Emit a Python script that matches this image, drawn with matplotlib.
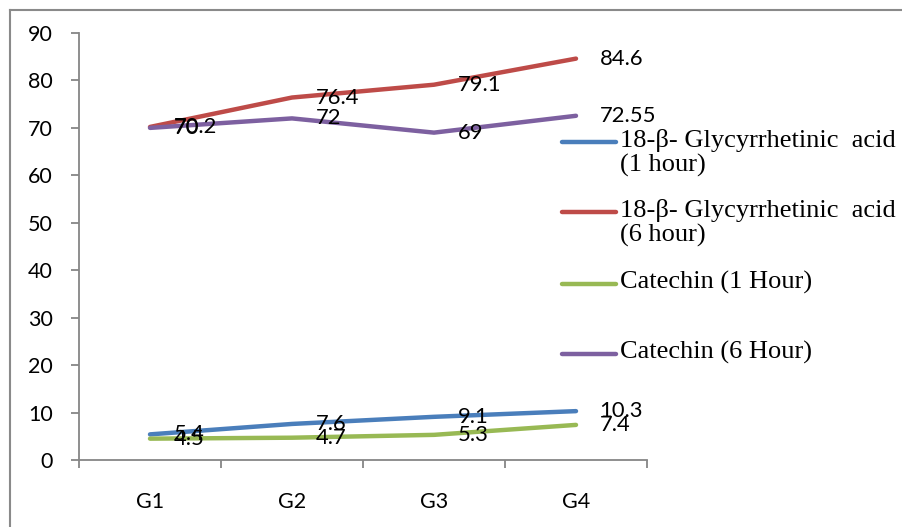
import matplotlib
matplotlib.use("Agg")
import matplotlib.pyplot as plt
import numpy as np
from matplotlib.lines import Line2D

groups = ["G1", "G2", "G3", "G4"]
glyc_1h = [5.4, 7.6, 9.1, 10.3]
glyc_6h = [70.2, 76.4, 79.1, 84.6]
cat_1h = [4.5, 4.7, 5.3, 7.4]
cat_6h = [70, 72, 69, 72.55]

series_names = [
    "18-β- Glycyrrhetinic  acid\n(1 hour)",
    "18-β- Glycyrrhetinic  acid\n(6 hour)",
    "Catechin (1 Hour)",
    "Catechin (6 Hour)",
]
series_values = [glyc_1h, glyc_6h, cat_1h, cat_6h]
series_colors = ["#4A7EBB", "#BE4B48", "#98B954", "#7D60A0"]

W, H = 903, 527
fig = plt.figure(figsize=(W / 100, H / 100), dpi=100)

# axes in pixel box: left 79, right 647, top 33, bottom 460
ax = fig.add_axes([79 / W, 1 - 460 / H, (647 - 79) / W, (460 - 33) / H])

x = np.arange(1, len(groups) + 1)
for vals, col in zip(series_values, series_colors):
    ax.plot(x, vals, color=col, lw=3.2, solid_capstyle="round", zorder=3)

# data labels to the right of each point, like Excel
for vals in series_values:
    for xi, v in zip(x, vals):
        ax.annotate(f"{v:g}", (xi, v), xytext=(17, 0), textcoords="offset points",
                    ha="left", va="center", fontsize=15.8, family="Lato", zorder=4)

ax.set_xlim(0.5, len(groups) + 0.5)
ax.set_ylim(0, 90)
ax.set_yticks(np.arange(0, 91, 10))
ax.set_xticks(x)
ax.set_xticklabels(groups)
ax.set_xticks(np.arange(0.5, len(groups) + 1, 1), minor=True)

gray = "#868686"
for s in ["top", "right"]:
    ax.spines[s].set_visible(False)
for s in ["left", "bottom"]:
    ax.spines[s].set_color(gray)
    ax.spines[s].set_linewidth(1.3)

ax.tick_params(axis="y", which="major", length=6, width=1.3, color=gray,
               pad=13, labelsize=15.5)
ax.tick_params(axis="x", which="major", length=0, pad=23, labelsize=15.5)
ax.tick_params(axis="x", which="minor", length=6, width=1.3, color=gray)
for lab in ax.get_xticklabels() + ax.get_yticklabels():
    lab.set_family("Lato")

# legend drawn by hand to match the wrapped, serif entries
leg_y = [142, 212, 284, 354]
for name, col, yy in zip(series_names, series_colors, leg_y):
    fig.add_artist(Line2D([562 / W, 616 / W], [1 - yy / H, 1 - yy / H],
                          color=col, lw=3.2, solid_capstyle="round"))
    fig.text(620 / W, 1 - (yy - 13) / H, name, ha="left", va="top",
             fontsize=19, family="Liberation Serif", linespacing=1.12)

# chart frame
frame = "#8A8A8A"
fig.add_artist(Line2D([10 / W, 10 / W], [0, 1 - 10 / H], color=frame, lw=1.5))
fig.add_artist(Line2D([10 / W, 1], [1 - 10 / H, 1 - 10 / H], color=frame, lw=1.5))

fig.savefig("out.png", dpi=100)
